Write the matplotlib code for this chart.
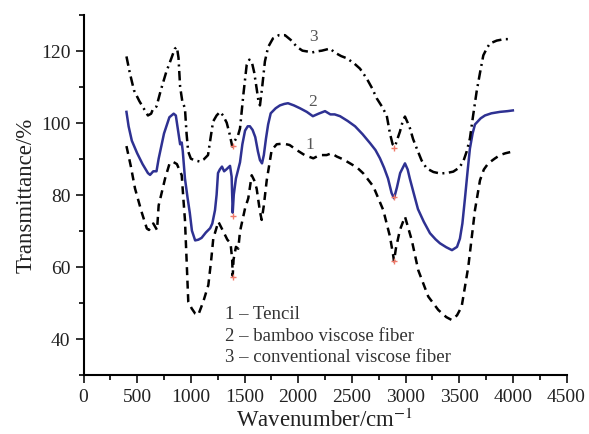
import matplotlib
matplotlib.use("Agg")
import matplotlib.pyplot as plt
from matplotlib.ticker import MultipleLocator

plt.rcParams["font.family"] = ["Liberation Serif", "DejaVu Serif"]
plt.rcParams["mathtext.fontset"] = "stix"

# 1 - Tencil (dashed)
wn_tencil = [400, 440, 480, 540, 590, 610, 650, 685, 700, 760, 800, 830, 870, 915,
             930, 945, 961, 976, 1008, 1040, 1069, 1116, 1163, 1190, 1209, 1256,
             1302, 1340, 1370, 1385, 1390, 1398, 1420, 1442, 1458, 1505, 1535,
             1567, 1590, 1613, 1644, 1660, 1680, 1707, 1753, 1800, 1862, 1920,
             1986, 2060, 2141, 2200, 2265, 2310, 2359, 2420, 2483, 2550, 2607,
             2700, 2793, 2855, 2886, 2893, 2910, 2948, 2995, 3058, 3119, 3212,
             3305, 3380, 3430, 3480, 3523, 3585, 3647, 3694, 3730, 3771, 3830,
             3880, 3930, 4000]
tr_tencil = [93.5, 88, 81.7, 75.3, 70.6, 70.2, 72, 70.2, 77, 84.5, 88.5, 89.2, 88.5,
             85.4, 79, 73, 61.4, 50.3, 48.4, 47, 46.6, 50.3, 54.9, 62, 67.8, 72.5,
             69.8, 67.5, 66.5, 62, 57.5, 62, 65.5, 65, 69.8, 76.2, 79, 85.4, 84,
             81.7, 75.3, 73, 77, 84, 92.4, 94, 94.2, 93.8, 92.4, 91, 90.1, 91, 91,
             91.5, 90.6, 89.8, 88.7, 87.5, 85.9, 82.3, 75.7, 68.4, 63, 61.5, 65,
             70.2, 73.9, 67.4, 59, 51.7, 48, 46, 45.2, 46.5, 48.9, 60, 75.7, 84,
             87, 88.7, 90, 91, 91.5, 92]

# 2 - bamboo viscose fiber (blue solid)
wn_bamboo = [400, 420, 450, 500, 550, 600, 620, 650, 680, 700, 750, 800, 840, 860,
             880, 900, 915, 925, 945, 970, 990, 1010, 1040, 1070, 1100, 1140, 1180,
             1200, 1225, 1240, 1253, 1270, 1290, 1310, 1330, 1365, 1380, 1390, 1400,
             1420, 1458, 1480, 1505, 1530, 1550, 1575, 1600, 1625, 1644, 1663, 1680,
             1700, 1720, 1744, 1790, 1830, 1870, 1905, 1960, 2017, 2080, 2137, 2190,
             2250, 2300, 2340, 2390, 2460, 2530, 2600, 2670, 2720, 2762, 2800, 2837,
             2870, 2893, 2920, 2950, 2995, 3020, 3040, 3080, 3116, 3170, 3228, 3280,
             3321, 3380, 3433, 3480, 3507, 3530, 3554, 3580, 3600, 3625, 3647, 3700,
             3740, 3800, 3880, 3950, 4000]
tr_bamboo = [103, 99, 95, 91.5, 88.5, 86, 85.5, 86.5, 86.5, 90, 97, 101.5, 102.5, 102,
             98, 94, 94.5, 92, 84.5, 79, 75, 70, 67.3, 67.5, 68, 69.5, 70.7, 72, 75.7,
             80, 86, 87, 87.8, 86.5, 87, 88, 85, 75, 80, 84.5, 89, 94, 97.8, 99, 99,
             98, 96, 92, 89.6, 88.7, 91, 95.6, 99.5, 102.6, 104, 104.8, 105.2, 105.4,
             104.8, 104, 103, 101.8, 102.5, 103.2, 102.3, 102.3, 101.8, 100.5, 99,
             96.8, 94.3, 92.4, 90.1, 87.5, 84.5, 80.5, 79, 82, 86, 88.7, 87, 84.5, 80,
             76, 72.5, 69.3, 67.6, 66.5, 65.4, 64.6, 65.5, 67.8, 72, 79, 87, 92.8, 97,
             99.5, 101.2, 102, 102.6, 103, 103.2, 103.4]

# 3 - conventional viscose fiber (dash-dot)
wn_conv = [400, 430, 470, 520, 560, 600, 630, 650, 680, 720, 770, 820, 850, 870, 885,
           900, 920, 945, 960, 975, 1000, 1040, 1085, 1120, 1160, 1185, 1207, 1240,
           1272, 1300, 1334, 1360, 1386, 1410, 1440, 1458, 1490, 1520, 1545, 1567,
           1590, 1613, 1630, 1644, 1665, 1690, 1720, 1765, 1820, 1877, 1930, 1990,
           2040, 2080, 2130, 2172, 2220, 2260, 2296, 2340, 2400, 2452, 2520, 2576,
           2638, 2690, 2731, 2780, 2825, 2855, 2880, 2902, 2925, 2948, 2975, 2995,
           3020, 3042, 3070, 3104, 3150, 3197, 3260, 3321, 3380, 3445, 3500, 3538,
           3570, 3600, 3630, 3663, 3695, 3725, 3760, 3787, 3850, 3920, 3989]
tr_conv = [118.4, 114, 109, 106, 104, 102, 102.5, 104, 104.5, 109, 114, 118, 120.5, 121,
           118, 110, 106, 104, 97, 92, 90, 89.5, 89.2, 89.8, 91, 96, 100.3, 102, 103,
           102, 100, 97, 93.4, 95, 96.5, 98.4, 108, 116, 117.5, 117, 114, 109.5, 106,
           104.8, 110, 117, 121, 123.4, 124.3, 124.3, 123, 121, 120, 119.8, 119.5,
           119.8, 120, 120.3, 120.6, 119.5, 118.5, 117.9, 116.5, 115, 112.3, 109.5,
           106.8, 104.5, 102, 97, 94, 93.4, 95.5, 97.5, 100.5, 101.7, 100, 98.4, 95.5,
           92.9, 89.5, 87.3, 86.3, 85.9, 86, 86.4, 87.5, 89.2, 92, 95.6, 102, 108.7,
           114, 118.7, 120.8, 122, 122.8, 123.2, 123.2]

# marked bands
mark_wn = [1390, 1390, 1390, 2890, 2890, 2890]
mark_tr = [93.4, 74.2, 57.2, 93.0, 79.3, 61.5]

curve_labels = ["1", "2", "3"]
curve_label_wn = [2110, 2130, 2140]
curve_label_tr = [94.0, 106.0, 124.0]
legend_lines = ["1 \u2013 Tencil", "2 \u2013 bamboo viscose fiber",
                "3 \u2013 conventional viscose fiber"]

fig = plt.figure(figsize=(5.89, 4.35), dpi=100)
ax = fig.add_axes([0.1418, 0.1363, 0.82, 0.8277])

lw = 1.8
ax.plot(wn_tencil, tr_tencil, color="black", lw=lw, linestyle=(0, (3.2, 2.2)))
ax.plot(wn_bamboo, tr_bamboo, color="#2e3192", lw=lw)
ax.plot(wn_conv, tr_conv, color="black", lw=lw, linestyle=(0, (3.8, 1.8, 0.8, 1.8)))
ax.plot(mark_wn, mark_tr, linestyle="none", marker="+", color="#f07a6a",
        markersize=5, markeredgewidth=1.0)

for lab, x, y in zip(curve_labels, curve_label_wn, curve_label_tr):
    ax.text(x, y, lab, fontsize=12.5, color="#555555", ha="center", va="center")

for i, line in enumerate(legend_lines):
    ax.text(1318, 47 - i * 6, line, fontsize=13.5, color="#333333",
            ha="left", va="center")

ax.set_xlim(0, 4500)
ax.set_ylim(30, 130)
ax.xaxis.set_major_locator(MultipleLocator(500))
ax.xaxis.set_minor_locator(MultipleLocator(250))
ax.yaxis.set_major_locator(MultipleLocator(20))
ax.yaxis.set_minor_locator(MultipleLocator(10))
ax.set_yticks([40, 60, 80, 100, 120])

for side in ["top", "right"]:
    ax.spines[side].set_visible(False)
for side in ["left", "bottom"]:
    ax.spines[side].set_linewidth(1.5)

ax.tick_params(which="major", direction="out", length=6, width=1.3,
               labelsize=14, colors="#222222")
ax.tick_params(which="minor", direction="out", length=3.5, width=1.2)

ax.set_xlabel("Wavenumber/cm$^{-1}$", fontsize=16.5, color="#222222", labelpad=2)
ax.set_ylabel("Transmittance/%", fontsize=16.5, color="#222222", labelpad=3)

fig.savefig("out.png", dpi=100)
